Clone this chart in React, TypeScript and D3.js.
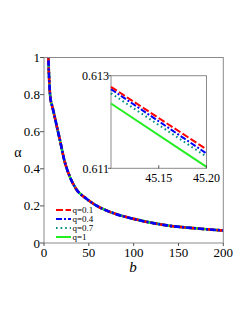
import React from "react";
import * as d3 from "d3";

// main curve (all four q overlap at this scale)
const bMain = [4.6, 5.2, 5.9, 6.6, 7.5, 9, 11, 14, 18, 23, 29, 36, 47, 59, 75, 100, 137, 174, 200];
const alphaMain = [1.05, 0.95, 0.87, 0.81, 0.77, 0.74, 0.7, 0.635, 0.55, 0.44, 0.355, 0.29, 0.24, 0.2, 0.165, 0.13, 0.095, 0.077, 0.067];

// zoomed inset
const bInset = [45.1, 45.2];
const alphaQ01 = [0.61276, 0.61141];
const alphaQ04 = [0.61271, 0.61132];
const alphaQ07 = [0.61262, 0.61125];
const alphaQ1 = [0.6124, 0.61103];

const qLabels = ["q=0.1", "q=0.4", "q=0.7", "q=1"];
const xTicks = [0, 50, 100, 150, 200];
const yTicks = [0, 0.2, 0.4, 0.6, 0.8, 1];
const xInsetTicks = [45.15, 45.2];
const yInsetTicks = [0.611, 0.613];

const styles = [
  { color: "#ff0000", dash: "7,2.5" },
  { color: "#0000ff", dash: "6,2,2,2" },
  { color: "#00907f", dash: "1.6,3" },
  { color: "#22ee22", dash: null },
];

const font = "'Liberation Serif', 'DejaVu Serif', serif";

export default function App() {
  const x = d3.scaleLinear().domain([0, 200]).range([44, 223.3]);
  const y = d3.scaleLinear().domain([0, 1]).range([243, 57.5]);
  const xi = d3.scaleLinear().domain([45.1, 45.2]).range([111, 206.5]);
  const yi = d3.scaleLinear().domain([0.611, 0.613]).range([168.3, 75.7]);

  const line = d3
    .line<number>()
    .x((d, i) => x(bMain[i]))
    .y((d) => y(d))
    .curve(d3.curveMonotoneX);

  const insetLine = d3
    .line<number>()
    .x((d, i) => xi(bInset[i]))
    .y((d) => yi(d));

  const insetSeries = [alphaQ01, alphaQ04, alphaQ07, alphaQ1];
  // green under, blue dash-dot on top (the main curve reads mostly blue)
  const order = [3, 2, 0, 1];

  return (
    <svg
      width={249}
      height={323}
      fontFamily={font}
      style={{ position: "absolute", left: 0, top: 0, background: "#fff" }}
    >
      <defs>
        <clipPath id="mainclip">
          <rect x={x(0)} y={y(1)} width={x(200) - x(0)} height={y(0) - y(1)} />
        </clipPath>
      </defs>

      {/* main curves */}
      <g clipPath="url(#mainclip)" fill="none" strokeWidth={2.6}>
        {order.map((k) => (
          <path
            key={k}
            d={line(alphaMain) || ""}
            stroke={styles[k].color}
            strokeDasharray={styles[k].dash || undefined}
          />
        ))}
      </g>

      {/* frame */}
      <rect
        x={x(0)}
        y={y(1)}
        width={x(200) - x(0)}
        height={y(0) - y(1)}
        fill="none"
        stroke="#8a8a8a"
        strokeWidth={1}
      />

      {/* axes */}
      <g fontSize={13} fill="#000">
        {yTicks.map((t) => (
          <g key={t}>
            <line x1={x(0) - 4} x2={x(0)} y1={y(t)} y2={y(t)} stroke="#555" />
            <text x={x(0) - 4} y={y(t)} dy="0.35em" textAnchor="end">
              {String(t)}
            </text>
          </g>
        ))}
        {xTicks.map((t) => (
          <g key={t}>
            <line x1={x(t)} x2={x(t)} y1={y(0)} y2={y(0) + 3} stroke="#555" />
            <text x={x(t)} y={y(0) + 14} textAnchor="middle">
              {String(t)}
            </text>
          </g>
        ))}
        <text x={133} y={272} fontSize={15} fontStyle="italic" textAnchor="middle">
          b
        </text>
        <text x={18} y={157} fontSize={14} textAnchor="middle">
          α
        </text>
      </g>

      {/* legend */}
      <g fontSize={9}>
        {qLabels.map((lab, i) => {
          const ly = 210 + i * 9;
          return (
            <g key={lab}>
              <line
                x1={56}
                x2={71}
                y1={ly}
                y2={ly}
                stroke={styles[i].color}
                strokeWidth={2}
                strokeDasharray={styles[i].dash || undefined}
              />
              <text x={72.5} y={ly} dy="0.35em" fill="#000">
                {lab}
              </text>
            </g>
          );
        })}
      </g>

      {/* inset */}
      <rect
        x={xi(45.1)}
        y={yi(0.613)}
        width={xi(45.2) - xi(45.1)}
        height={yi(0.611) - yi(0.613)}
        fill="#fff"
        stroke="#8a8a8a"
        strokeWidth={1}
      />
      <g fill="none" strokeWidth={2}>
        {[3, 2, 1, 0].map((k) => (
          <path
            key={k}
            d={insetLine(insetSeries[k]) || ""}
            stroke={styles[k].color}
            strokeDasharray={styles[k].dash || undefined}
          />
        ))}
      </g>
      <g fontSize={12} fill="#000">
        {yInsetTicks.map((t) => (
          <g key={t}>
            <line x1={xi(45.1) - 3} x2={xi(45.1)} y1={yi(t)} y2={yi(t)} stroke="#555" />
            <text x={xi(45.1) - 2} y={yi(t)} dy="0.35em" textAnchor="end">
              {t.toFixed(3)}
            </text>
          </g>
        ))}
        {xInsetTicks.map((t) => (
          <g key={t}>
            <line x1={xi(t)} x2={xi(t)} y1={yi(0.611)} y2={yi(0.611) - 3} stroke="#555" />
            <text x={xi(t)} y={yi(0.611) + 14} textAnchor="middle">
              {t.toFixed(2)}
            </text>
          </g>
        ))}
      </g>
    </svg>
  );
}
